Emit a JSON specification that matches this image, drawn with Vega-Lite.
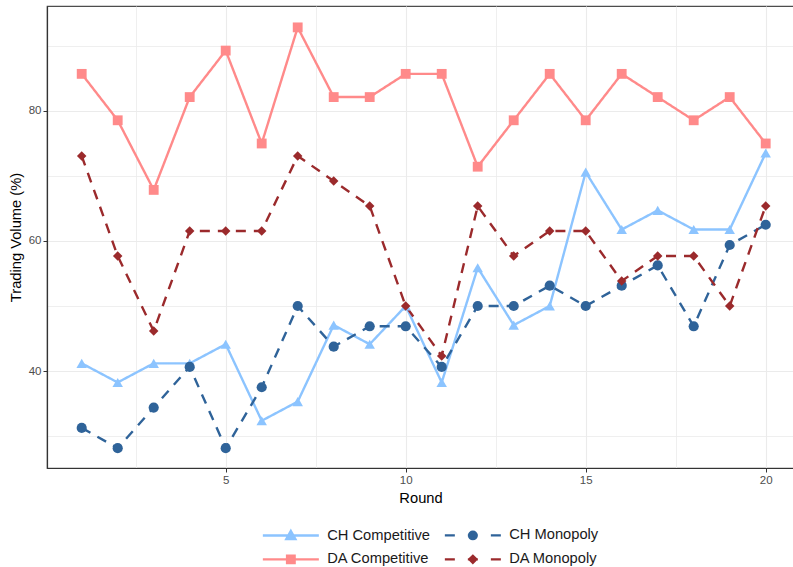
{
  "$schema": "https://vega.github.io/schema/vega-lite/v6.json",
  "width": 747,
  "height": 462,
  "autosize": "none",
  "padding": {"left": 47, "top": 6, "right": 0, "bottom": 99},
  "background": "white",
  "config": {
    "font": "Liberation Sans",
    "view": {"stroke": "#4d4d4d", "strokeWidth": 1.2},
    "axis": {
      "domainColor": "#333333",
      "domainWidth": 1.2,
      "tickColor": "#333333",
      "tickSize": 4,
      "labelColor": "#4d4d4d",
      "labelFontSize": 11.5,
      "labelFont": "Liberation Sans",
      "titleFont": "Liberation Sans",
      "titleFontSize": 14.7,
      "titleFontWeight": "normal",
      "titleColor": "black",
      "gridColor": "#EBEBEB"
    }
  },
  "data": {
    "values": [
      {"Round": 1, "series": "CH Competitive", "value": 41.18},
      {"Round": 2, "series": "CH Competitive", "value": 38.24},
      {"Round": 3, "series": "CH Competitive", "value": 41.18},
      {"Round": 4, "series": "CH Competitive", "value": 41.18},
      {"Round": 5, "series": "CH Competitive", "value": 44.12},
      {"Round": 6, "series": "CH Competitive", "value": 32.35},
      {"Round": 7, "series": "CH Competitive", "value": 35.29},
      {"Round": 8, "series": "CH Competitive", "value": 47.06},
      {"Round": 9, "series": "CH Competitive", "value": 44.12},
      {"Round": 10, "series": "CH Competitive", "value": 50},
      {"Round": 11, "series": "CH Competitive", "value": 38.24},
      {"Round": 12, "series": "CH Competitive", "value": 55.88},
      {"Round": 13, "series": "CH Competitive", "value": 47.06},
      {"Round": 14, "series": "CH Competitive", "value": 50},
      {"Round": 15, "series": "CH Competitive", "value": 70.59},
      {"Round": 16, "series": "CH Competitive", "value": 61.76},
      {"Round": 17, "series": "CH Competitive", "value": 64.71},
      {"Round": 18, "series": "CH Competitive", "value": 61.76},
      {"Round": 19, "series": "CH Competitive", "value": 61.76},
      {"Round": 20, "series": "CH Competitive", "value": 73.53},
      {"Round": 1, "series": "CH Monopoly", "value": 31.25},
      {"Round": 2, "series": "CH Monopoly", "value": 28.13},
      {"Round": 3, "series": "CH Monopoly", "value": 34.38},
      {"Round": 4, "series": "CH Monopoly", "value": 40.63},
      {"Round": 5, "series": "CH Monopoly", "value": 28.13},
      {"Round": 6, "series": "CH Monopoly", "value": 37.5},
      {"Round": 7, "series": "CH Monopoly", "value": 50},
      {"Round": 8, "series": "CH Monopoly", "value": 43.75},
      {"Round": 9, "series": "CH Monopoly", "value": 46.88},
      {"Round": 10, "series": "CH Monopoly", "value": 46.88},
      {"Round": 11, "series": "CH Monopoly", "value": 40.63},
      {"Round": 12, "series": "CH Monopoly", "value": 50},
      {"Round": 13, "series": "CH Monopoly", "value": 50},
      {"Round": 14, "series": "CH Monopoly", "value": 53.13},
      {"Round": 15, "series": "CH Monopoly", "value": 50},
      {"Round": 16, "series": "CH Monopoly", "value": 53.13},
      {"Round": 17, "series": "CH Monopoly", "value": 56.25},
      {"Round": 18, "series": "CH Monopoly", "value": 46.88},
      {"Round": 19, "series": "CH Monopoly", "value": 59.38},
      {"Round": 20, "series": "CH Monopoly", "value": 62.5},
      {"Round": 1, "series": "DA Competitive", "value": 85.71},
      {"Round": 2, "series": "DA Competitive", "value": 78.57},
      {"Round": 3, "series": "DA Competitive", "value": 67.86},
      {"Round": 4, "series": "DA Competitive", "value": 82.14},
      {"Round": 5, "series": "DA Competitive", "value": 89.29},
      {"Round": 6, "series": "DA Competitive", "value": 75},
      {"Round": 7, "series": "DA Competitive", "value": 92.86},
      {"Round": 8, "series": "DA Competitive", "value": 82.14},
      {"Round": 9, "series": "DA Competitive", "value": 82.14},
      {"Round": 10, "series": "DA Competitive", "value": 85.71},
      {"Round": 11, "series": "DA Competitive", "value": 85.71},
      {"Round": 12, "series": "DA Competitive", "value": 71.43},
      {"Round": 13, "series": "DA Competitive", "value": 78.57},
      {"Round": 14, "series": "DA Competitive", "value": 85.71},
      {"Round": 15, "series": "DA Competitive", "value": 78.57},
      {"Round": 16, "series": "DA Competitive", "value": 85.71},
      {"Round": 17, "series": "DA Competitive", "value": 82.14},
      {"Round": 18, "series": "DA Competitive", "value": 78.57},
      {"Round": 19, "series": "DA Competitive", "value": 82.14},
      {"Round": 20, "series": "DA Competitive", "value": 75},
      {"Round": 1, "series": "DA Monopoly", "value": 73.08},
      {"Round": 2, "series": "DA Monopoly", "value": 57.69},
      {"Round": 3, "series": "DA Monopoly", "value": 46.15},
      {"Round": 4, "series": "DA Monopoly", "value": 61.54},
      {"Round": 5, "series": "DA Monopoly", "value": 61.54},
      {"Round": 6, "series": "DA Monopoly", "value": 61.54},
      {"Round": 7, "series": "DA Monopoly", "value": 73.08},
      {"Round": 8, "series": "DA Monopoly", "value": 69.23},
      {"Round": 9, "series": "DA Monopoly", "value": 65.38},
      {"Round": 10, "series": "DA Monopoly", "value": 50},
      {"Round": 11, "series": "DA Monopoly", "value": 42.31},
      {"Round": 12, "series": "DA Monopoly", "value": 65.38},
      {"Round": 13, "series": "DA Monopoly", "value": 57.69},
      {"Round": 14, "series": "DA Monopoly", "value": 61.54},
      {"Round": 15, "series": "DA Monopoly", "value": 61.54},
      {"Round": 16, "series": "DA Monopoly", "value": 53.85},
      {"Round": 17, "series": "DA Monopoly", "value": 57.69},
      {"Round": 18, "series": "DA Monopoly", "value": 57.69},
      {"Round": 19, "series": "DA Monopoly", "value": 50},
      {"Round": 20, "series": "DA Monopoly", "value": 65.38}
    ]
  },
  "encoding": {
    "x": {
      "field": "Round",
      "type": "quantitative",
      "scale": {"domain": [0.036, 20.786], "nice": false, "zero": false},
      "axis": {
        "title": "Round",
        "values": [2.5, 5, 7.5, 10, 12.5, 15, 17.5, 20],
        "labelExpr": "datum.value % 5 == 0 ? datum.label : ''",
        "tickOpacity": {"condition": {"test": "datum.value % 5 != 0", "value": 0}, "value": 1},
        "gridWidth": {"condition": {"test": "datum.value % 5 != 0", "value": 0.8}, "value": 1.1},
        "labelPadding": 2,
        "titlePadding": 5,
        "grid": true
      }
    },
    "y": {
      "field": "value",
      "type": "quantitative",
      "scale": {"domain": [25.08, 96.15], "nice": false, "zero": false},
      "axis": {
        "title": "Trading Volume (%)",
        "values": [30, 40, 50, 60, 70, 80, 90],
        "labelExpr": "datum.value % 20 == 0 ? datum.label : ''",
        "tickOpacity": {"condition": {"test": "datum.value % 20 != 0", "value": 0}, "value": 1},
        "gridWidth": {"condition": {"test": "datum.value % 20 != 0", "value": 0.8}, "value": 1.1},
        "labelPadding": 2,
        "titlePadding": 5,
        "grid": true
      }
    }
  },
  "layer": [
    {
      "mark": {"type": "line", "strokeWidth": 2.4},
      "encoding": {
        "color": {
          "field": "series",
          "type": "nominal",
          "scale": {
            "domain": ["CH Competitive", "CH Monopoly", "DA Competitive", "DA Monopoly"],
            "range": ["#8CC4FF", "#2F6399", "#FF8A8A", "#9B2A2C"]
          },
          "legend": null
        },
        "strokeDash": {
          "field": "series",
          "type": "nominal",
          "scale": {
            "domain": ["CH Competitive", "CH Monopoly", "DA Competitive", "DA Monopoly"],
            "range": [[1, 0], [10, 8], [1, 0], [10, 8]]
          },
          "legend": null
        }
      }
    },
    {
      "mark": {"type": "point", "filled": true, "opacity": 1},
      "encoding": {
        "color": {
          "field": "series",
          "type": "nominal",
          "scale": {
            "domain": ["CH Competitive", "CH Monopoly", "DA Competitive", "DA Monopoly"],
            "range": ["#8CC4FF", "#2F6399", "#FF8A8A", "#9B2A2C"]
          },
          "legend": null
        },
        "shape": {
          "field": "series",
          "type": "nominal",
          "scale": {
            "domain": ["CH Competitive", "CH Monopoly", "DA Competitive", "DA Monopoly"],
            "range": ["triangle-up", "circle", "square", "diamond"]
          },
          "legend": null
        },
        "size": {
          "field": "series",
          "type": "nominal",
          "scale": {
            "domain": ["CH Competitive", "CH Monopoly", "DA Competitive", "DA Monopoly"],
            "range": [110, 90, 95, 70]
          },
          "legend": null
        }
      }
    },
    {
      "transform": [{"filter": "false"}],
      "mark": {"type": "point", "filled": true, "opacity": 1},
      "encoding": {
        "color": {
          "field": "series",
          "type": "nominal",
          "scale": {
            "domain": ["CH Competitive", "CH Monopoly", "DA Competitive", "DA Monopoly"],
            "range": ["#8CC4FF", "#2F6399", "#FF8A8A", "#9B2A2C"]
          },
          "legend": {
            "title": null,
            "orient": "none",
            "legendX": 213.5,
            "legendY": 522,
            "columns": 2,
            "direction": "horizontal",
            "gridAlign": "each",
            "symbolSize": 100,
            "symbolStrokeWidth": 2.4,
            "symbolOpacity": 1,
            "labelFontSize": 14.7,
            "labelFont": "Liberation Sans",
            "labelColor": "#1a1a1a",
            "labelOffset": 52,
            "columnPadding": 9,
            "rowPadding": 6,
            "padding": 0
          }
        },
        "stroke": {
          "field": "series",
          "type": "nominal",
          "scale": {
            "domain": ["CH Competitive", "CH Monopoly", "DA Competitive", "DA Monopoly"],
            "range": ["#8CC4FF", "#2F6399", "#FF8A8A", "#9B2A2C"]
          }
        },
        "shape": {
          "field": "series",
          "type": "nominal",
          "scale": {
            "domain": ["CH Competitive", "CH Monopoly", "DA Competitive", "DA Monopoly"],
            "range": [
              "M-1,0H10.2M4.6,-0.9L5.5,0.7L3.7,0.7Z",
              "M-1,0H1M3.6,0H5.6M8.2,0H10.2M5.35,0A0.75,0.75 0 1,1 3.85,0A0.75,0.75 0 1,1 5.35,0Z",
              "M-1,0H10.2M3.85,-0.75H5.35V0.75H3.85Z",
              "M-1,0H1M3.6,0H5.6M8.2,0H10.2M4.6,-0.7L5.3,0L4.6,0.7L3.9,0Z"
            ]
          }
        }
      }
    }
  ],
  "resolve": {"scale": {"color": "independent", "shape": "independent", "stroke": "independent", "size": "independent", "strokeDash": "independent"}}
}
